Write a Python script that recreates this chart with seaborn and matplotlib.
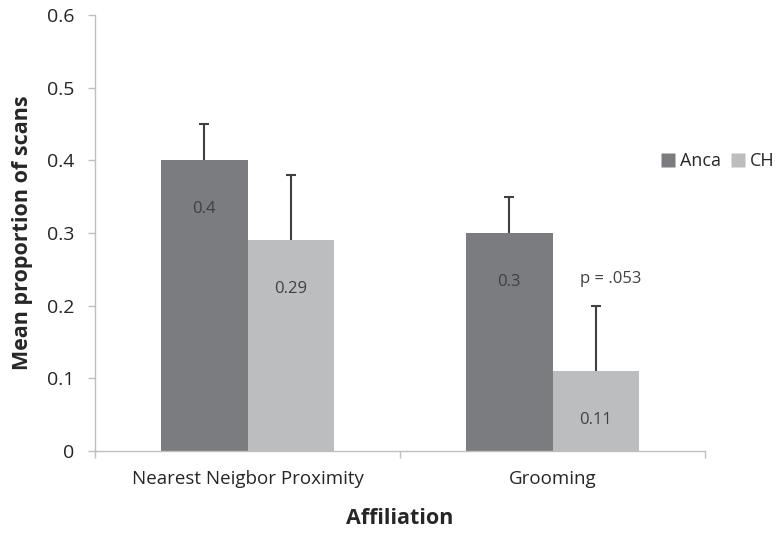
import matplotlib
matplotlib.use("Agg")
import matplotlib.pyplot as plt
from matplotlib.lines import Line2D
import seaborn as sns
import pandas as pd
import numpy as np

# Data
categories = ["Nearest Neigbor Proximity", "Grooming"]
groups = ["Anca", "CH"]
anca_means = [0.40, 0.30]
ch_means = [0.29, 0.11]
anca_err = [0.05, 0.05]
ch_err = [0.09, 0.09]
value_labels = {"Anca": ["0.4", "0.3"], "CH": ["0.29", "0.11"]}
y_ticks = [0, 0.1, 0.2, 0.3, 0.4, 0.5, 0.6]

df = pd.DataFrame({
    "Affiliation": categories * 2,
    "Group": ["Anca"] * 2 + ["CH"] * 2,
    "Mean": anca_means + ch_means,
    "Err": anca_err + ch_err,
})

sns.set_theme(style="white")
plt.rcParams["font.family"] = ["Open Sans", "DejaVu Sans"]

text_col = "#404040"
dark_text = "#262626"
palette = {"Anca": "#7b7c80", "CH": "#bcbdbf"}

fig = plt.figure(figsize=(7.79, 5.33), dpi=100)
ax = fig.add_axes([0.122, 0.154, 0.783, 0.818])

sns.barplot(data=df, x="Affiliation", y="Mean", hue="Group", order=categories,
            hue_order=groups, palette=palette, width=0.57, errorbar=None,
            saturation=1, ax=ax, legend=False, edgecolor="none")

# Error bars (upper only) and value labels, from bar geometry
for container, g in zip(ax.containers, groups):
    sub = df[df["Group"] == g].set_index("Affiliation").loc[categories]
    for bar, (_, row), lab in zip(container, sub.iterrows(), value_labels[g]):
        xc = bar.get_x() + bar.get_width() / 2
        eb = ax.errorbar(xc, row["Mean"], yerr=[[0], [row["Err"]]], fmt="none",
                         ecolor=text_col, elinewidth=1.5, capsize=3.5, capthick=1.5)
        caps = eb.lines[1]
        if len(caps) > 1:
            caps[0].set_visible(False)
        ax.annotate(lab, (xc, row["Mean"]), xytext=(0, -35), textcoords="offset points",
                    ha="center", va="center", fontsize=12, color=text_col)

# significance note above the CH grooming bar
ax.text(1.19, 0.237, "p = .053", ha="center", va="center", fontsize=12, color=text_col)

ax.set_xlim(-0.5, 1.5)
ax.set_ylim(0, 0.6)
ax.set_yticks(y_ticks)
ax.set_yticklabels(["0" if t == 0 else f"{t:.1f}" for t in y_ticks])
ax.set_xticks([-0.5, 0.5, 1.5], minor=True)

for s in ["top", "right"]:
    ax.spines[s].set_visible(False)
for s in ["left", "bottom"]:
    ax.spines[s].set_color("#bfbfbf")
    ax.spines[s].set_linewidth(1.0)

ax.tick_params(axis="y", which="major", length=5, color="#bfbfbf", width=1,
               labelsize=14, labelcolor=dark_text, pad=10, left=True)
ax.tick_params(axis="x", which="major", length=0, labelsize=13.5,
               labelcolor=dark_text, pad=14)
ax.tick_params(axis="x", which="minor", length=5, color="#bfbfbf", width=1, bottom=True)

ax.set_xlabel("Affiliation", fontsize=15.5, fontweight="bold", color=dark_text, labelpad=14)
ax.set_ylabel("Mean proportion of scans", fontsize=15.5, fontweight="bold",
              color=dark_text, labelpad=10)

handles = [Line2D([0], [0], marker="s", linestyle="none", markersize=10,
                  markerfacecolor=palette[g], markeredgecolor="none") for g in groups]
fig.legend(handles, groups, loc="center left", bbox_to_anchor=(0.838, 0.697),
           ncol=2, frameon=False, fontsize=13, handlelength=0.7,
           handletextpad=0.3, columnspacing=0.6, labelcolor=dark_text, borderpad=0)

fig.savefig("out.png", dpi=100)
